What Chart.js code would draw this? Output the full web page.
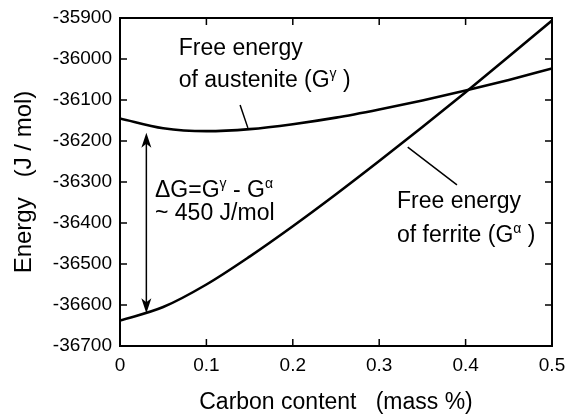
<!DOCTYPE html>
<html>
<head>
<meta charset="utf-8">
<script src="https://cdn.jsdelivr.net/npm/chart.js@4/dist/chart.umd.min.js"></script>
<style>
  html, body { margin: 0; padding: 0; background: #fff; }
  #wrap { width: 569px; height: 414px; }
</style>
</head>
<body>
<div id="wrap"><canvas id="chart" width="569" height="414"></canvas></div>
<script>
"use strict";

// Carbon content (mass %) sample points
const carbon = [0, 0.05, 0.1, 0.15, 0.2, 0.25, 0.3, 0.35, 0.4, 0.45, 0.5];
// Free energy of austenite (J/mol)
const gAustenite = [-36145, -36169, -36176, -36171, -36159, -36143, -36123, -36101, -36077, -36051, -36023];
// Free energy of ferrite (J/mol)
const gFerrite = [-36638, -36605, -36550, -36482, -36408, -36330, -36249, -36166, -36081, -35994, -35906];

const xTicks = [0, 0.1, 0.2, 0.3, 0.4, 0.5];
const yTicks = [-36700, -36600, -36500, -36400, -36300, -36200, -36100, -36000, -35900];

const FONT = '"Liberation Sans", Arial, Helvetica, sans-serif';

function points(ys) {
  return carbon.map((c, i) => ({ x: c, y: ys[i] }));
}

// Draws text made of normal and superscript parts, left aligned at (x, y) baseline.
function richText(ctx, x, y, parts) {
  for (const [txt, sup] of parts) {
    ctx.font = sup ? `14px ${FONT}` : `23px ${FONT}`;
    ctx.fillText(txt, x, sup ? y - 9 : y);
    x += ctx.measureText(txt).width;
  }
}

// Box around the plot with inward tick marks on every side.
const frame = {
  id: "frame",
  afterDraw(chart) {
    const { ctx, chartArea: a, scales: { x, y } } = chart;
    const len = 7;
    ctx.save();
    ctx.strokeStyle = "#000";
    ctx.lineWidth = 2;
    ctx.strokeRect(a.left, a.top, a.right - a.left, a.bottom - a.top);
    ctx.lineWidth = 1.5;
    ctx.beginPath();
    for (const v of xTicks) {
      const px = x.getPixelForValue(v);
      ctx.moveTo(px, a.bottom); ctx.lineTo(px, a.bottom - len);
      ctx.moveTo(px, a.top); ctx.lineTo(px, a.top + len);
    }
    for (const v of yTicks) {
      const py = y.getPixelForValue(v);
      ctx.moveTo(a.left, py); ctx.lineTo(a.left + len, py);
      ctx.moveTo(a.right, py); ctx.lineTo(a.right - len, py);
    }
    ctx.stroke();
    ctx.restore();
  },
};

// Labels, leader lines and the double arrow for ΔG.
const notes = {
  id: "notes",
  afterDatasetsDraw(chart) {
    const { ctx, scales: { x, y } } = chart;
    const X = (v) => x.getPixelForValue(v);
    const Y = (v) => y.getPixelForValue(v);
    ctx.save();
    ctx.fillStyle = "#000";
    ctx.strokeStyle = "#000";
    ctx.textBaseline = "alphabetic";
    ctx.textAlign = "left";

    richText(ctx, X(0.068), Y(-35990), [["Free energy", false]]);
    richText(ctx, X(0.068), Y(-36068), [["of austenite (G", false], ["γ", true], [" )", false]]);

    richText(ctx, X(0.3206), Y(-36363), [["Free energy", false]]);
    richText(ctx, X(0.3206), Y(-36446), [["of ferrite (G", false], ["α", true], [" )", false]]);

    richText(ctx, X(0.0405), Y(-36337), [["ΔG=G", false], ["γ", true], [" - G", false], ["α", true]]);
    richText(ctx, X(0.0405), Y(-36393), [["~ 450 J/mol", false]]);

    // leader lines
    ctx.lineWidth = 1.5;
    ctx.beginPath();
    ctx.moveTo(X(0.139), Y(-36112)); ctx.lineTo(X(0.148), Y(-36168));
    ctx.moveTo(X(0.333), Y(-36215)); ctx.lineTo(X(0.390), Y(-36307));
    ctx.stroke();

    // double arrow
    const ax = X(0.0305), top = Y(-36180), bot = Y(-36620);
    ctx.beginPath();
    ctx.moveTo(ax, top + 6); ctx.lineTo(ax, bot - 6);
    ctx.stroke();
    for (const [tip, dir] of [[top, 1], [bot, -1]]) {
      ctx.beginPath();
      ctx.moveTo(ax, tip);
      ctx.lineTo(ax - 5, tip + dir * 15);
      ctx.lineTo(ax, tip + dir * 11);
      ctx.lineTo(ax + 5, tip + dir * 15);
      ctx.closePath();
      ctx.fill();
    }
    ctx.restore();
  },
};

new Chart(document.getElementById("chart"), {
  type: "line",
  data: {
    datasets: [
      { label: "Austenite", data: points(gAustenite) },
      { label: "Ferrite", data: points(gFerrite) },
    ],
  },
  options: {
    responsive: false,
    animation: false,
    events: [],
    layout: { padding: { left: 0, top: 18, right: 17, bottom: 0 } },
    elements: {
      line: { borderColor: "#000", borderWidth: 2.6, cubicInterpolationMode: "monotone", fill: false },
      point: { radius: 0 },
    },
    plugins: { legend: { display: false }, tooltip: { enabled: false } },
    scales: {
      x: {
        type: "linear",
        min: 0, max: 0.5,
        afterBuildTicks: (s) => { s.ticks = xTicks.map((v) => ({ value: v })); },
        afterFit: (s) => { s.height = 68; s.paddingLeft = 0; s.paddingRight = 0; },
        grid: { display: false, drawTicks: false },
        border: { display: false },
        ticks: {
          color: "#000", padding: 8, maxRotation: 0,
          font: { family: FONT, size: 19 },
          callback: (v) => String(+v.toFixed(1)),
        },
        title: {
          display: true, text: "Carbon content   (mass %)", color: "#000",
          font: { family: FONT, size: 23, lineHeight: 1 }, padding: { top: 0, bottom: 0 },
        },
      },
      y: {
        min: -36700, max: -35900,
        afterBuildTicks: (s) => { s.ticks = yTicks.map((v) => ({ value: v })); },
        afterFit: (s) => { s.width = 120; s.paddingTop = 0; s.paddingBottom = 0; },
        grid: { display: false, drawTicks: false },
        border: { display: false },
        ticks: {
          color: "#000", padding: 8,
          font: { family: FONT, size: 19 },
          callback: (v) => String(v),
        },
        title: {
          display: true, text: "Energy   (J / mol)", color: "#000",
          font: { family: FONT, size: 24, lineHeight: 1.2 }, padding: { top: 10, bottom: 0 },
        },
      },
    },
  },
  plugins: [frame, notes],
});
</script>
</body>
</html>
